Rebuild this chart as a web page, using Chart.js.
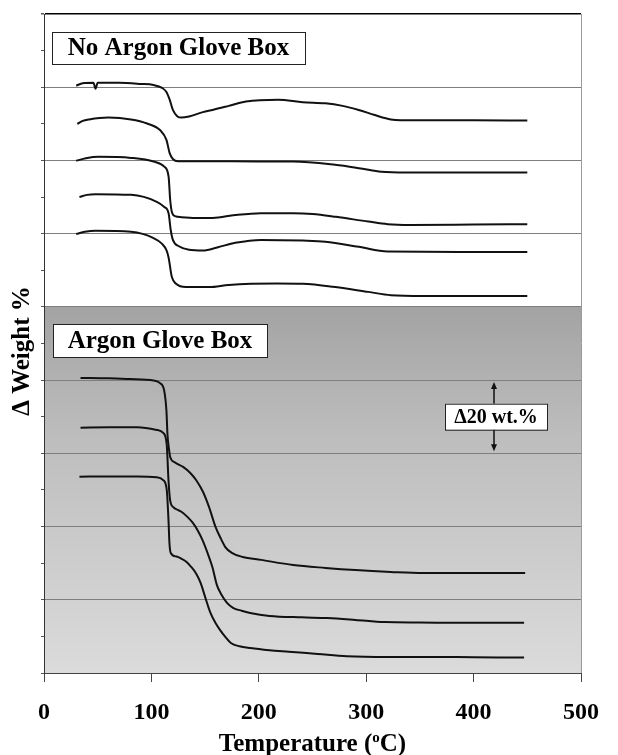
<!DOCTYPE html>
<html>
<head>
<meta charset="utf-8">
<script src="https://cdn.jsdelivr.net/npm/chart.js@4/dist/chart.umd.min.js"></script>
<style>
  html, body { margin: 0; padding: 0; background: #fff; }
  canvas { display: block; }
</style>
</head>
<body>
<canvas id="tga" width="618" height="755"></canvas>
<script>
// Thermogravimetric traces: temperature (°C) vs offset weight (%), one grid step = 20 wt.%

// Samples handled without the argon glove box
const noArgon1T = [30, 36, 46, 48, 50, 70, 90, 102, 110, 114, 117, 120, 124, 128, 135, 148, 157, 172, 188, 218, 241, 262, 278, 293, 308, 323, 332, 400, 450];
const noArgon1W = [160.4, 161.1, 161.2, 159.6, 161.2, 161.2, 160.9, 160.6, 159.8, 158.7, 156.6, 153.8, 152.1, 151.7, 152.0, 153.2, 153.8, 154.9, 156.1, 156.6, 155.9, 155.6, 154.9, 153.8, 152.4, 151.2, 151.0, 151.0, 150.9];

const noArgon2T = [31, 36, 42, 60, 81, 96, 108, 114, 117, 120, 125, 150, 200, 232, 271, 295, 314, 338, 400, 450];
const noArgon2W = [150.0, 150.8, 151.2, 151.7, 151.2, 150.1, 148.3, 145.6, 142.0, 140.4, 139.8, 139.8, 139.7, 139.7, 138.8, 137.8, 136.9, 136.7, 136.7, 136.7];

const noArgon3T = [30, 39, 51, 81, 102, 112, 116, 117.5, 119, 122, 128, 141, 157, 178, 202, 232, 250, 272, 302, 320, 341, 400, 450];
const noArgon3W = [139.9, 140.6, 141.0, 140.7, 139.7, 138.3, 135.6, 129.2, 126.0, 124.8, 124.5, 124.3, 124.3, 125.1, 125.6, 125.6, 125.4, 124.6, 123.3, 122.6, 122.4, 122.5, 122.6];

const noArgon4T = [33, 40, 48, 81, 105, 112, 116, 118, 120, 126, 135, 148, 162, 178, 202, 241, 262, 293, 320, 400, 450];
const noArgon4W = [130.0, 130.6, 130.8, 130.6, 128.7, 127.3, 125.6, 121.0, 118.3, 116.5, 115.6, 115.4, 116.3, 117.5, 118.3, 118.1, 117.8, 116.4, 115.1, 115.0, 115.0];

const noArgon5T = [30, 38, 48, 81, 102, 110, 114, 116, 119, 123, 132, 154, 172, 217, 241, 269, 302, 323, 353, 450];
const noArgon5W = [119.9, 120.5, 120.8, 120.5, 118.8, 117.2, 115.5, 113.5, 108.2, 106.3, 105.4, 105.4, 106.0, 106.4, 106.3, 105.5, 104.1, 103.2, 103.0, 103.0];

// Samples handled inside the argon glove box
const argon1T = [34, 60, 80, 102, 108, 112, 114, 115, 116.5, 117.5, 122, 129.5, 136, 141.6, 148, 153.7, 159.7, 165, 168.8, 174.9, 185, 202, 232, 262, 290, 323, 353, 400, 448];
const argon1W = [80.6, 80.5, 80.3, 79.9, 79.2, 77.0, 71.6, 65.0, 60.9, 59.0, 57.5, 56.3, 54.7, 52.7, 49.5, 45.3, 39.9, 36.5, 34.4, 32.8, 31.7, 30.9, 29.5, 28.7, 28.1, 27.6, 27.3, 27.3, 27.3];

const argon2T = [34, 60, 87, 105, 111, 114.3, 115.9, 117.4, 120.4, 125, 129.5, 134, 138.6, 143, 147.6, 152, 156.7, 161, 165, 170, 176, 184, 192, 210, 240, 264, 290, 317, 350, 389, 447];
const argon2W = [67.0, 67.1, 67.1, 66.4, 65.6, 62.3, 52.7, 47.3, 45.3, 44.5, 43.7, 42.5, 41.0, 39.0, 36.3, 33.0, 29.0, 24.0, 21.5, 19.3, 17.8, 17.0, 16.4, 15.6, 15.2, 15.0, 14.5, 13.9, 13.8, 13.7, 13.7];

const argon3T = [33, 60, 87, 105, 111, 114.3, 115.9, 116.8, 118, 123.4, 128, 132.5, 137, 141.6, 146, 150, 155, 160, 164, 169, 174, 182, 192, 210, 228, 255, 282, 320, 353, 400, 447];
const argon3W = [53.6, 53.7, 53.7, 53.5, 52.7, 50.0, 41.8, 35.5, 32.8, 31.8, 31.2, 30.4, 29.0, 27.2, 24.5, 20.8, 16.4, 13.5, 11.7, 9.8, 8.2, 7.3, 6.8, 6.2, 5.8, 5.2, 4.6, 4.4, 4.4, 4.3, 4.2];

// Axis ticks
const tempTicks = [0, 100, 200, 300, 400, 500];
const weightMin = 0, weightMax = 180, weightMajor = 20, weightMinor = 10;
const argonPanelTop = 100;          // upper edge of the shaded "Argon" panel, wt.%
const scaleBarFrom = 80, scaleBarTo = 60; // Δ20 wt.% marker

const serif = '"Liberation Serif", "Times New Roman", serif';

function toPoints(ts, ws) {
  return ts.map((t, i) => ({ x: t, y: ws[i] }));
}

const traces = [
  [noArgon1T, noArgon1W], [noArgon2T, noArgon2W], [noArgon3T, noArgon3W],
  [noArgon4T, noArgon4W], [noArgon5T, noArgon5W],
  [argon1T, argon1W], [argon2T, argon2W], [argon3T, argon3W]
];

const datasets = traces.map(([t, w]) => ({
  data: toPoints(t, w),
  borderColor: '#111',
  borderWidth: 2,
  pointRadius: 0,
  fill: false,
  cubicInterpolationMode: 'monotone'
}));

// Shaded panel behind the argon traces
const panelPlugin = {
  id: 'panel',
  beforeDraw(chart) {
    const { ctx, chartArea: a, scales: { y } } = chart;
    const top = y.getPixelForValue(argonPanelTop);
    const g = ctx.createLinearGradient(0, top, 0, a.bottom);
    g.addColorStop(0, '#a3a3a3');
    g.addColorStop(0.35, '#bdbdbd');
    g.addColorStop(1, '#dbdbdb');
    ctx.save();
    ctx.fillStyle = g;
    ctx.fillRect(a.left, top, a.right - a.left, a.bottom - top);
    ctx.restore();
  }
};

function labelBox(ctx, text, x, y, w, h, size) {
  ctx.fillStyle = '#fff';
  ctx.fillRect(x, y, w, h);
  ctx.strokeStyle = '#222';
  ctx.lineWidth = 1;
  ctx.strokeRect(x + 0.5, y + 0.5, w, h);
  ctx.fillStyle = '#000';
  ctx.font = 'bold ' + size + 'px ' + serif;
  ctx.textAlign = 'center';
  ctx.textBaseline = 'middle';
  ctx.fillText(text, x + w / 2, y + h / 2 + 1);
}

function arrowHead(ctx, x, tipY, dir) {
  ctx.beginPath();
  ctx.moveTo(x, tipY);
  ctx.lineTo(x - 3, tipY - dir * 7);
  ctx.lineTo(x + 3, tipY - dir * 7);
  ctx.closePath();
  ctx.fill();
}

const annotationPlugin = {
  id: 'annotations',
  afterDatasetsDraw(chart) {
    const { ctx, chartArea: a, scales: { y } } = chart;
    ctx.save();
    labelBox(ctx, 'No Argon Glove Box', a.left + 8, a.top + 18, 253, 32, 25);
    labelBox(ctx, 'Argon Glove Box', a.left + 9, a.top + 310, 214, 33, 25);

    // Δ20 wt.% scale bar
    const bx = a.left + 450;
    const y1 = y.getPixelForValue(scaleBarFrom) + 2;
    const y2 = y.getPixelForValue(scaleBarTo) - 2;
    ctx.strokeStyle = '#111';
    ctx.fillStyle = '#111';
    ctx.lineWidth = 1.5;
    ctx.beginPath();
    ctx.moveTo(bx, y1 + 5);
    ctx.lineTo(bx, y2 - 5);
    ctx.stroke();
    arrowHead(ctx, bx, y1, -1);
    arrowHead(ctx, bx, y2, 1);
    labelBox(ctx, 'Δ20 wt.%', a.left + 401, (y1 + y2) / 2 - 13, 102, 26, 20);
    ctx.restore();
  },
  afterDraw(chart) {
    const { ctx, chartArea: a } = chart;
    ctx.save();
    ctx.fillStyle = '#000';
    // y-axis title
    ctx.font = 'bold 25px ' + serif;
    ctx.translate(23, 351);
    ctx.rotate(-Math.PI / 2);
    ctx.textAlign = 'center';
    ctx.textBaseline = 'middle';
    ctx.fillText('Δ Weight %', 0, 0);
    ctx.restore();

    // x-axis title with superscript "o"
    ctx.save();
    ctx.fillStyle = '#000';
    ctx.textBaseline = 'alphabetic';
    const big = 'bold 25px ' + serif, small = 'bold 15px ' + serif;
    const parts = [['Temperature (', big, 0], ['o', small, -9], ['C)', big, 0]];
    let total = 0;
    parts.forEach(([t, f]) => { ctx.font = f; total += ctx.measureText(t).width; });
    let x = (a.left + a.right) / 2 - total / 2;
    const base = 751;
    parts.forEach(([t, f, dy]) => {
      ctx.font = f;
      ctx.fillText(t, x, base + dy);
      x += ctx.measureText(t).width;
    });
    ctx.restore();
  }
};

new Chart(document.getElementById('tga'), {
  type: 'line',
  data: { datasets },
  options: {
    responsive: false,
    animation: false,
    layout: { padding: { top: 14, right: 23, left: 0, bottom: 0 } },
    plugins: { legend: { display: false }, tooltip: { enabled: false } },
    scales: {
      x: {
        type: 'linear',
        min: tempTicks[0],
        max: tempTicks[tempTicks.length - 1],
        afterBuildTicks(s) { s.ticks = tempTicks.map(v => ({ value: v })); },
        ticks: {
          color: '#000',
          padding: 19,
          maxRotation: 0,
          font: { family: serif, weight: 'bold', size: 24, lineHeight: 1 }
        },
        grid: {
          color: c => (c.tick && c.tick.value === 500 ? '#9a9a9a' : 'rgba(0,0,0,0)'),
          tickColor: '#444',
          tickLength: 9,
          lineWidth: 1
        },
        border: { color: '#444', width: 1 },
        afterFit(s) { s.height = 82; }
      },
      y: {
        min: weightMin,
        max: weightMax,
        ticks: { stepSize: weightMinor, display: false },
        grid: {
          color: c => {
            const v = c.tick ? c.tick.value : 0;
            if (v === weightMax) return '#000';
            return v % weightMajor === 0 ? '#7e7e7e' : 'rgba(0,0,0,0)';
          },
          lineWidth: c => (c.tick && c.tick.value === weightMax ? 1.5 : 1),
          tickColor: '#555',
          tickLength: 3
        },
        border: { color: '#333', width: 1 },
        afterFit(s) { s.width = 44; }
      }
    }
  },
  plugins: [panelPlugin, annotationPlugin]
});
</script>
</body>
</html>
